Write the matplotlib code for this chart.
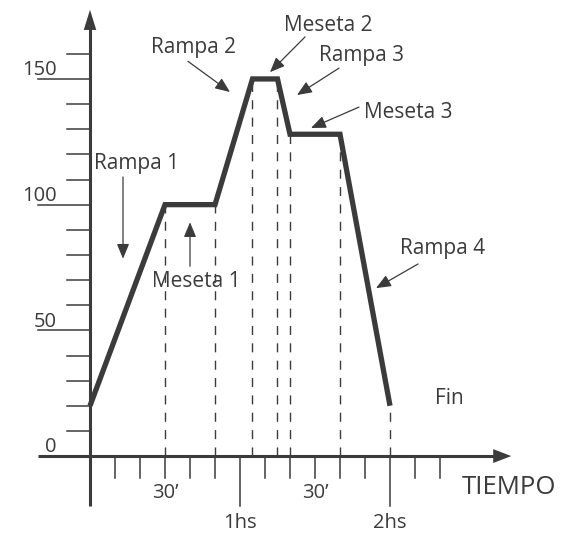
import matplotlib.pyplot as plt

# === DATA ===
tiempo = [0, 30, 50, 65, 75, 80, 100, 120]      # minutos
temp = [20, 100, 100, 150, 150, 128, 128, 20]

y_major = [50, 100, 150]
y_minor = list(range(10, 170, 10))
x_minor = list(range(10, 150, 10))
x_major = [0, 60, 120]
x_labels = [(30, "30’", 1), (90, "30’", 1), (60, "1hs", 2), (120, "2hs", 2)]

# text label, text position, arrow start, arrow tip
notas = [
    ("Rampa 1", (18.8, 116.5), (13.2, 111), (13.2, 78.5)),
    ("Meseta 1", (42.5, 69.6), (40, 75.5), (40, 93)),
    ("Rampa 2", (41.6, 162.7), (39.2, 157), (56, 144.8)),
    ("Meseta 2", (95.2, 171.4), (86, 166.7), (72, 152.7)),
    ("Rampa 3", (108.8, 159.5), (99.6, 154.3), (82.8, 143.6)),
    ("Meseta 3", (127.5, 136.8), (107.6, 138.8), (88.4, 130.5)),
    ("Rampa 4", (141, 82.7), (131.2, 76.4), (114.4, 66.8)),
]

DARK = "#3b3b3b"
plt.rcParams["font.family"] = ["Open Sans", "DejaVu Sans"]

fig = plt.figure(figsize=(5.62, 5.33), dpi=100)
ax = fig.add_axes([0, 0, 1, 1])
# 2.5 px per minute, ~2.514 px per unit
ax.set_xlim(-36, 188.8)
ax.set_ylim(-30.6, 181.4)
ax.axis("off")

# === Axes with arrows ===
ax.plot([0, 0], [-19.9, 170], color=DARK, lw=2.2, solid_capstyle="butt")
ax.plot([-20.8, 162], [0, 0], color=DARK, lw=2.2, solid_capstyle="butt")
ax.annotate("", xy=(0, 177.5), xytext=(0, 169.5),
            arrowprops=dict(arrowstyle="-|>,head_length=1.45,head_width=0.45",
                            color=DARK, lw=0, shrinkA=0, shrinkB=0, mutation_scale=10))
ax.annotate("", xy=(168.5, 0), xytext=(161, 0),
            arrowprops=dict(arrowstyle="-|>,head_length=1.3,head_width=0.5",
                            color=DARK, lw=0, shrinkA=0, shrinkB=0, mutation_scale=10))

# y ticks
for v in y_minor:
    left = -20.8 if v in y_major else -9.2
    ax.plot([left, 0], [v, v], color=DARK, lw=1.1)
for v in y_major:
    ax.text(-13.2, v + 1.5, str(v), ha="right", va="baseline", fontsize=14.5, color=DARK)
ax.text(-13.2, 1.5, "0", ha="right", va="baseline", fontsize=14.5, color=DARK)

# x ticks
for t in x_minor:
    bottom = -19.9 if t in x_major else -8.7
    ax.plot([t, t], [0, bottom], color=DARK, lw=1.1)
for t, lab, nivel in x_labels:
    ax.text(t, -14.7 if nivel == 1 else -26.7, lab, ha="center", va="center",
            fontsize=14.5, color=DARK)
ax.text(167.5, -12.7, "TIEMPO", ha="center", va="center", fontsize=18.5, color=DARK)

# === Dashed guides and curve ===
for t, v in zip(tiempo[1:], temp[1:]):
    ax.plot([t, t], [0, v], color=DARK, lw=1, linestyle=(0, (6.5, 6)))
ax.plot(tiempo, temp, color=DARK, lw=3.8, solid_joinstyle="miter", solid_capstyle="butt")

# === Annotations ===
for label, pos, start, tip in notas:
    ax.text(pos[0], pos[1], label, ha="center", va="center", fontsize=15, color=DARK)
    ax.annotate("", xy=tip, xytext=start,
                arrowprops=dict(arrowstyle="-|>,head_length=0.6,head_width=0.25",
                                color=DARK, lw=0.9, shrinkA=0, shrinkB=0, mutation_scale=15))
ax.text(143.6, 23, "Fin", ha="center", va="center", fontsize=15, color=DARK)

fig.savefig("out.png", dpi=100)
